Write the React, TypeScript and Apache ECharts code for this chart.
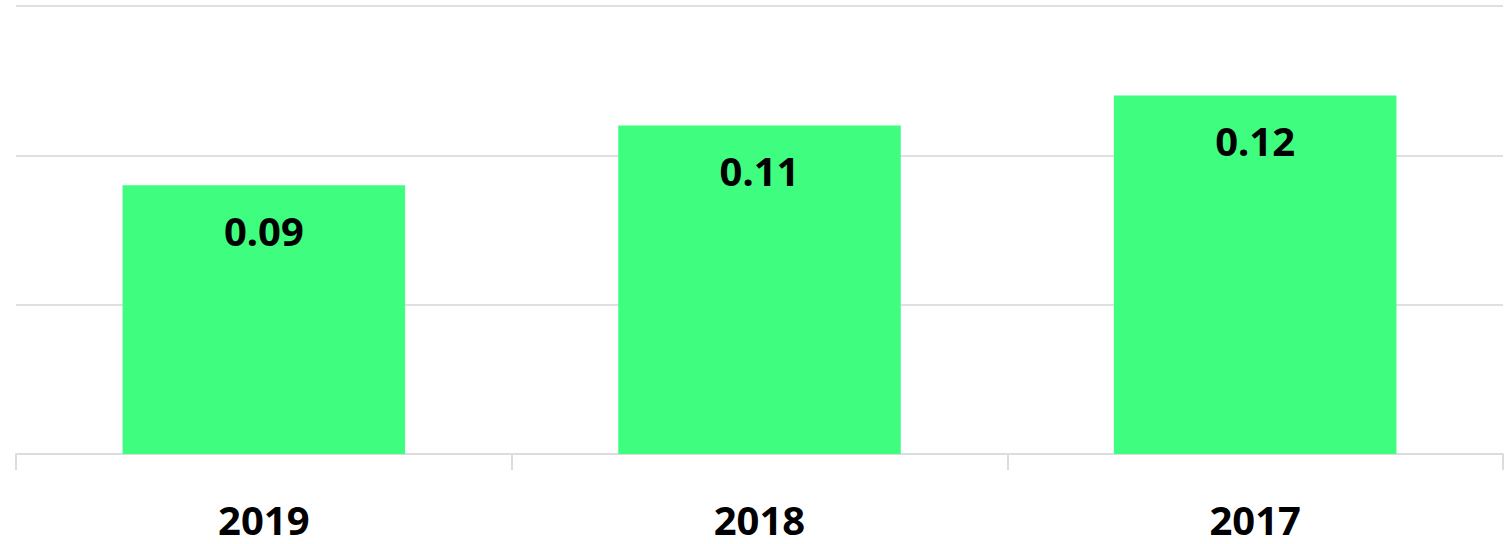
import React, { useEffect, useRef } from "react";
import * as echarts from "echarts";

const categories = ["2019", "2018", "2017"];
const values = [0.09, 0.11, 0.12];

export default function App() {
  const ref = useRef<HTMLDivElement>(null);
  useEffect(() => {
    document.body.style.margin = "0";
    const chart = echarts.init(ref.current!, undefined, { renderer: "svg" });
    chart.setOption({
      animation: false,
      grid: { left: 16, right: 8, top: 6, bottom: 90, containLabel: false },
      xAxis: {
        type: "category",
        data: categories,
        axisLine: { show: true, lineStyle: { color: "#dcdcdc", width: 2 } },
        axisTick: { show: true, length: 16, lineStyle: { color: "#dcdcdc", width: 2 } },
        axisLabel: {
          color: "#000",
          fontSize: 40,
          lineHeight: 40,
          fontWeight: "bold",
          fontFamily: "Noto Sans",
          margin: 45,
        },
      },
      yAxis: {
        type: "value",
        min: 0,
        max: 0.15,
        interval: 0.05,
        axisLabel: { show: false },
        axisLine: { show: false },
        axisTick: { show: false },
        splitLine: { lineStyle: { color: "#e0e0e0", width: 2 } },
      },
      series: [
        {
          type: "bar",
          data: values,
          barWidth: "57%",
          itemStyle: { color: "#3ffd7e" },
          label: {
            show: true,
            position: "insideTop",
            distance: 25,
            color: "#000",
            fontSize: 40,
            fontWeight: "bold",
            fontFamily: "Noto Sans",
            formatter: (p: any) => p.value.toFixed(2),
          },
        },
      ],
    });
    return () => chart.dispose();
  }, []);
  return <div ref={ref} style={{ width: 1511, height: 544 }} />;
}
